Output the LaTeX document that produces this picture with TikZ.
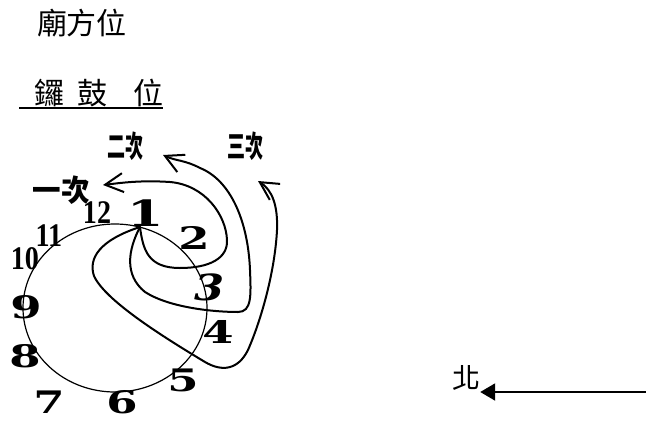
\documentclass[tikz,border=0pt]{standalone}
\usepackage{fontspec}
\usepackage{graphicx}
\newfontfamily\cjk{Noto Sans CJK TC}
\newfontfamily\numf{DejaVu Serif}
\newfontfamily\timesf{Liberation Serif}
\usetikzlibrary{arrows.meta,shapes.geometric}
\begin{document}
\begin{tikzpicture}[x=1pt,y=-1pt,
  cjkt/.style={font=\cjk\fontsize{30}{32}\selectfont, inner sep=0pt},
  cjkb/.style={font=\cjk\bfseries\fontsize{30}{32}\selectfont, inner sep=0pt},
  bnum/.style={font=\numf\bfseries\fontsize{31}{32}\selectfont, inner sep=0pt},
  tnum/.style={font=\timesf\bfseries\fontsize{33}{34}\selectfont, inner sep=0pt},
  curve/.style={line width=2pt, line cap=round, -{Straight Barb[length=18pt,width=19pt,line width=2pt]}},
]
\useasboundingbox (0,0) rectangle (646,421);
% titles
\node[cjkt] (title) at (82,23) {廟方位};
\node[cjkt, anchor=west] (gong) at (34,93) {鑼\hspace{13pt}鼓\hspace{26pt}位};
\coordinate (ulstart) at (19,108);
\draw[line width=2pt] (ulstart) -- (ulstart -| gong.east);
% dial
\node[ellipse, draw, line width=1.2pt, minimum width=184pt, minimum height=168pt, inner sep=0pt] (dial) at (115,308) {};
% numbers
\node[bnum] (n1) at (146,213) {\fontsize{36}{36}\selectfont\scalebox{1.45}[1]{1}};
\node[bnum] (n2) at (194,238) {\scalebox{1.45}[1]{2}};
\node[bnum] (n3) at (210,287) {\fontsize{36}{36}\selectfont\itshape\scalebox{1.2}[1]{3}};
\node[bnum] (n4) at (218,332) {\scalebox{1.45}[1]{4}};
\node[bnum] (n5) at (183,380) {\scalebox{1.45}[1]{5}};
\node[bnum] (n6) at (122,402) {\scalebox{1.45}[1]{6}};
\node[bnum] (n7) at (49,402) {\scalebox{1.45}[1]{7}};
\node[bnum] (n8) at (25,356) {\scalebox{1.45}[1]{8}};
\node[bnum] (n9) at (26,307) {\scalebox{1.45}[1]{9}};
\node[tnum] (n10) at (25,259) {\scalebox{0.85}[1]{10}};
\node[tnum] (n11) at (49,236) {\scalebox{0.85}[1]{11}};
\node[tnum] (n12) at (97,213) {\scalebox{0.85}[1]{12}};
% round labels
\node[cjkb] (r1) at (61,190) {\scalebox{0.95}[1]{一次}};
\node[cjkb] (r2) at (125,146) {\scalebox{0.6}[1]{二次}};
\node[cjkb] (r3) at (245,146) {\scalebox{0.6}[1]{三次}};
% paths
\coordinate (o) at (140,227);
\coordinate (t1) at (103,185);
\coordinate (t2) at (163,155);
\coordinate (t3) at (258,181);
\draw[curve] (o) .. controls (143,250) and (148,268) .. (180,268)
  .. controls (210,268) and (228,258) .. (227,240)
  .. controls (226,215) and (205,185) .. (170,182)
  .. controls (140,180) and (120,183) .. (t1);
\draw[curve] (o) .. controls (128,250) and (124,275) .. (145,292)
  .. controls (170,308) and (215,312) .. (238,312)
  .. controls (252,312) and (251,295) .. (250,270)
  .. controls (248,220) and (230,180) .. (200,168)
  .. controls (185,160) and (176,161) .. (t2);
\draw[curve] (o) .. controls (100,240) and (88,258) .. (94,276)
  .. controls (105,300) and (160,335) .. (205,362)
  .. controls (222,372) and (238,370) .. (248,350)
  .. controls (262,318) and (275,270) .. (277,230)
  .. controls (278,205) and (272,190) .. (t3);
% north arrow
\node[cjkt, font=\cjk\fontsize{28}{30}\selectfont] (bei) at (466,378) {北};
\coordinate (aend) at (646,392);
\draw[line width=2pt, -{Triangle[length=15pt,width=17pt]}] (aend) -- (aend -| bei.east);
\end{tikzpicture}
\end{document}
